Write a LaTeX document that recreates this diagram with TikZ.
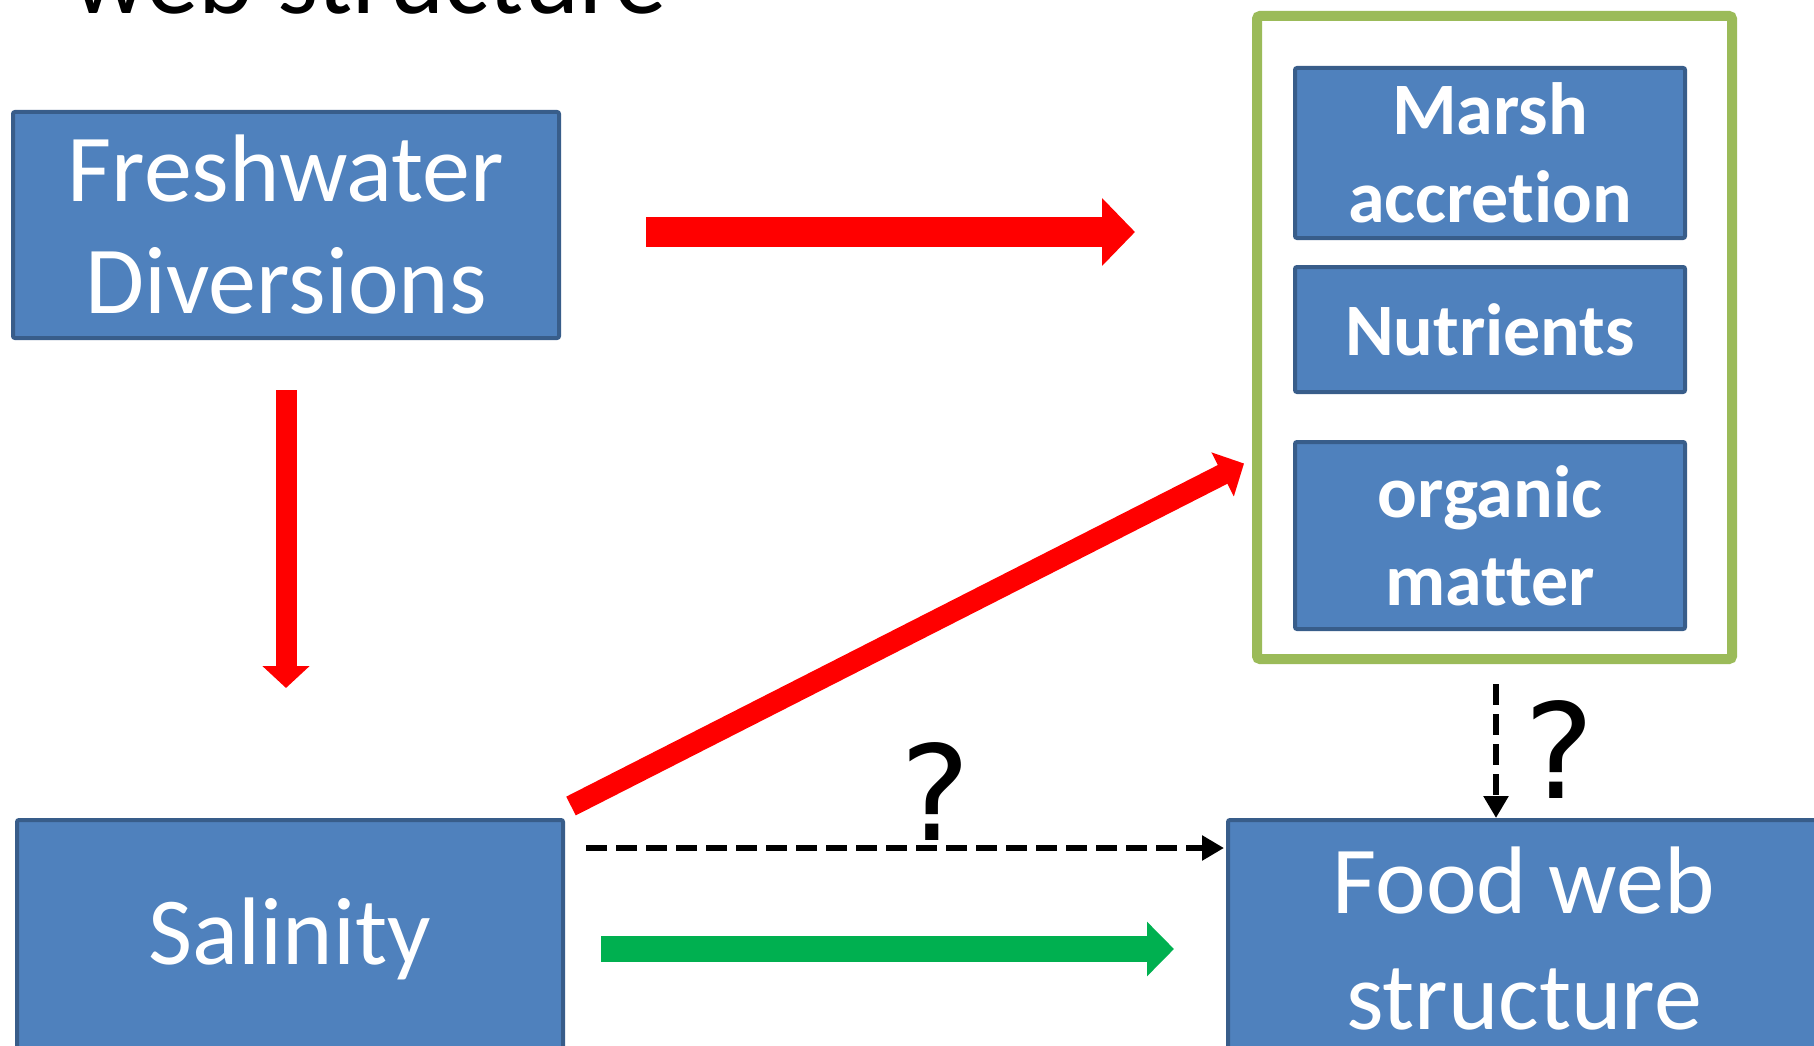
\documentclass[tikz,border=0pt]{standalone}
\usepackage{fontspec}
\setmainfont{Carlito}[RawFeature={-liga;-clig;-calt;-dlig}]
\newfontfamily\qmarkfont{DejaVu Sans}
\usetikzlibrary{arrows.meta,calc}
\definecolor{boxfill}{HTML}{4F81BD}
\definecolor{boxline}{HTML}{385D8A}
\definecolor{frameg}{HTML}{9BBB59}
\definecolor{arrg}{HTML}{00B050}
\begin{document}
\begin{tikzpicture}[x=1pt,y=-1pt,
  bluebox/.style={draw=boxline, fill=boxfill, line width=4pt, rounded corners=2pt, inner sep=0pt, text=white, align=center},
  regtext/.style={font=\fontsize{96}{112}\selectfont},
  foodtext/.style={font=\fontsize{96}{116}\selectfont},
  boldtext/.style={font=\fontsize{74}{88}\selectfont\bfseries},
  qtext/.style={font=\qmarkfont\fontsize{132}{132}\selectfont, inner sep=0pt, anchor=base},
  bigred/.style={draw=red, line width=30pt, -{Triangle[length=33pt,width=66pt]}},
  redv/.style={draw=red, line width=21pt, -{Triangle[length=22pt,width=46pt]}},
  reddiag/.style={draw=red, line width=21pt, -{Triangle[length=24pt,width=48pt]}},
  greenarr/.style={draw=arrg, line width=26pt, -{Triangle[length=27pt,width=53pt]}},
  dasharr/.style={draw=black, line width=6pt, dash pattern=on 21pt off 9pt, -{Triangle[length=22pt,width=24pt]}}
]
\useasboundingbox (0,0) rectangle (1814,1046);
\clip (0,0) rectangle (1814,1046);
\fill[white] (0,0) rectangle (1814,1046);

\node[anchor=base west, inner sep=0pt, font=\fontsize{105}{105}\selectfont] (title) at (72,14) {web structure};

\node[bluebox, regtext, minimum width=546pt, minimum height=226pt] (fresh) at (286,225) {Freshwater\\Diversions};
\node[bluebox, regtext, minimum width=546pt, minimum height=238pt] (sal) at (290,939) {Salinity};
\node[bluebox, foodtext, minimum width=592pt, minimum height=238pt] (food) at (1524,939) {Food web\\structure};

\node[draw=frameg, line width=10pt, rounded corners=3pt, minimum width=475pt, minimum height=643pt, inner sep=0pt] (group) at (1494.5,337.5) {};
\node[bluebox, boldtext, minimum width=390pt, minimum height=170pt] (marsh) at (1490,153) {Marsh\\accretion};
\node[bluebox, boldtext, minimum width=390pt, minimum height=125pt] (nutr) at (1490,329.5) {Nutrients};
\node[bluebox, boldtext, minimum width=390pt, minimum height=187pt] (org) at (1490,535.5) {organic\\matter};

\draw[bigred] ($(fresh.east)+(85,7)$) -- ($(fresh.east -| group.west)+(-117,7)$);
\draw[redv] ($(fresh.south)+(0,50)$) -- ($(fresh.south |- sal.north)+(0,-130)$);
\draw[reddiag] ($(sal.north east)+(6,-12)$) -- ($(group.west)+(-8,126)$);
\draw[dasharr] ($(sal.north east)+(21,30)$) -- ($(food.north west)+(-2,30)$);
\draw[greenarr] ($(sal.north east)+(36,131)$) -- ($(food.north west)+(-52,131)$);
\draw[dasharr] ($(group.south)+(1.5,20)$) -- ($(group.south |- food.north)+(1.5,0)$);

\node[qtext] (q1) at (936,840) {?};
\node[qtext] (q2) at (1560,798) {?};
\end{tikzpicture}
\end{document}
